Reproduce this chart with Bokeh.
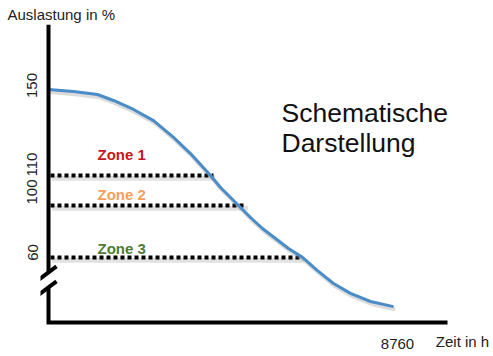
from bokeh.plotting import figure
from bokeh.models import Range1d, FixedTicker, Label, ColumnDataSource
from bokeh.transform import dodge
from bokeh.embed import file_html
from bokeh.resources import INLINE

# ---- data (schematic load duration curve) ----
hours = [0, 628, 1230, 1632, 2134, 2636, 3138, 3564, 4066, 4317, 4769, 5070,
         5371, 5698, 6024, 6375, 6752, 7154, 7580, 8082, 8660]
load = [138.7, 138.0, 137.0, 135.0, 132.0, 128.3, 122.7, 117.3, 110.0, 106.0,
        100.0, 96.0, 92.33, 89.0, 85.67, 82.7, 78.3, 74.0, 70.7, 68.0, 66.3]

zone_names = ["Zone 1", "Zone 2", "Zone 3"]
zone_colors = ["#C8161E", "#F4A05A", "#4E7D33"]
zone_level = [110.0, 100.0, 82.67]
zone_end = [4142, 4970, 6375]
zone_label_y = [117.0, 103.67, 85.67]

y_tick_pos = [84.33, 104.5, 113.67, 140.0]
y_tick_labels = ["60", "100", "110", "150"]
x_ticks = [8760]

FONT = "Liberation Sans"

p = figure(width=493, height=356, output_backend="svg", toolbar_location=None,
           x_range=Range1d(-200.8, 10391), y_range=Range1d(57.33, 160.33),
           min_border_left=40, min_border_right=31, min_border_top=24,
           min_border_bottom=23,
           title="Auslastung in %")
p.outline_line_color = None
p.grid.visible = False
p.background_fill_color = "white"

p.title.text_font = FONT
p.title.text_font_size = "15px"
p.title.text_font_style = "normal"
p.title.text_color = "#222222"
p.title.align = "left"
p.title.offset = -33
p.title.standoff = 3

for ax in (p.xaxis[0], p.yaxis[0]):
    ax.axis_line_color = None
    ax.major_tick_line_color = None
    ax.minor_tick_line_color = None
    ax.major_tick_out = 0
    ax.major_tick_in = 0
    ax.major_label_text_font = FONT
    ax.major_label_text_font_size = "15px"
    ax.major_label_text_color = "#222222"

p.xaxis.ticker = FixedTicker(ticks=x_ticks)
p.xaxis.major_label_standoff = 5
p.xaxis.axis_label = "Zeit in h"
p.xaxis.axis_label_text_font = FONT
p.xaxis.axis_label_text_font_size = "15px"
p.xaxis.axis_label_text_font_style = "normal"
p.xaxis.axis_label_text_color = "#222222"
p.xaxis.axis_label_align = "end"
p.xaxis.axis_label_standoff = -19

p.yaxis.ticker = FixedTicker(ticks=y_tick_pos)
p.yaxis.major_label_overrides = {pos: lab for pos, lab in zip(y_tick_pos, y_tick_labels)}
p.yaxis.major_label_orientation = "vertical"
p.yaxis.major_label_standoff = 3

# zone dotted lines (soft shadow first)
zsrc = ColumnDataSource(dict(x0=[50] * 3, x1=zone_end, y=zone_level))
p.segment(x0=dodge("x0", 40), y0=dodge("y", -0.9), x1=dodge("x1", 40),
          y1=dodge("y", -0.9), source=zsrc, line_color="#9a9a9a", line_alpha=0.3,
          line_width=5)
p.segment(x0="x0", y0="y", x1="x1", y1="y", source=zsrc, line_color="black",
          line_width=4, line_dash="4 3", line_cap="butt")

# curve (soft shadow first)
csrc = ColumnDataSource(dict(x=hours, y=load))
p.line(x=dodge("x", 40), y=dodge("y", -0.9), source=csrc, line_color="#9a9a9a",
       line_alpha=0.35, line_width=4, line_join="round")
p.line(x="x", y="y", source=csrc, line_color="#4A8CC7", line_width=3,
       line_join="round")

# axes (schematic, with break)
p.line([0, 0], [160.33, 77.67], line_color="black", line_width=4)
p.line([0, 0, 10015], [72.67, 61.0, 61.0], line_color="black", line_width=4,
       line_join="miter")
p.segment(x0=[-276, -276], y0=[75.0, 70.0], x1=[201, 201], y1=[79.67, 74.67],
          line_color="black", line_width=4)

# texts
for name, col, ly in zip(zone_names, zone_colors, zone_label_y):
    p.add_layout(Label(x=1230, y=ly, text=name, text_color=col, text_font=FONT,
                       text_font_size="15px", text_font_style="bold",
                       text_baseline="alphabetic"))

p.add_layout(Label(x=5848, y=130.67, text="Schematische", text_font=FONT,
                   text_font_size="26.5px", text_color="#111111",
                   text_baseline="alphabetic"))
p.add_layout(Label(x=5848, y=120.67, text="Darstellung", text_font=FONT,
                   text_font_size="26.5px", text_color="#111111",
                   text_baseline="alphabetic"))

open("out.html", "w").write(file_html(p, INLINE))
